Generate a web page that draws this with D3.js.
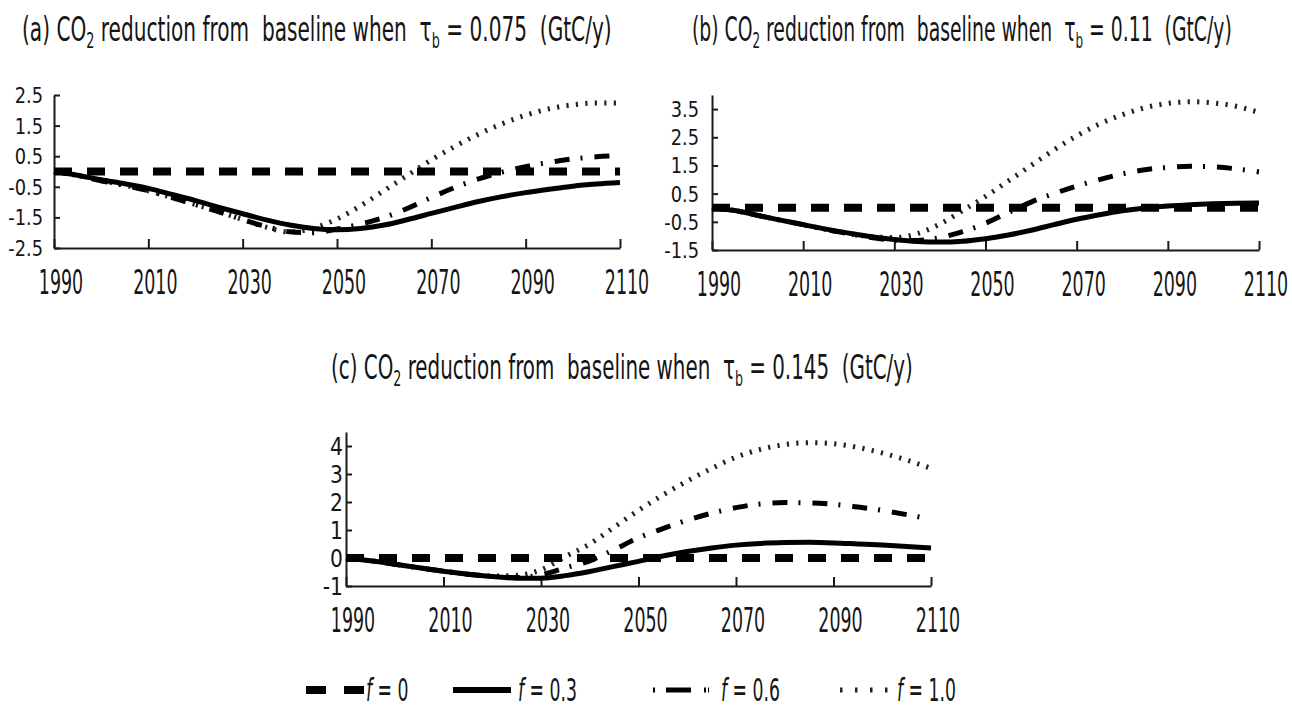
<!DOCTYPE html>
<html>
<head>
<meta charset="utf-8">
<script src="https://cdn.jsdelivr.net/npm/d3@7"></script>
<style>
  body { margin: 0; background: #fff; }
  text { font-family: "Liberation Sans Narrow", "DejaVu Sans Condensed", "Liberation Sans", sans-serif; fill: #151515; white-space: pre; }
</style>
</head>
<body>
<svg id="chart" width="1292" height="717"></svg>
<script>
// ---- data, one value every 5 years ----
var years = [1990, 1995, 2000, 2005, 2010, 2015, 2020, 2025, 2030, 2035, 2040, 2045, 2050,
             2055, 2060, 2065, 2070, 2075, 2080, 2085, 2090, 2095, 2100, 2105, 2110];

var f0 = [0, 0, 0, 0, 0, 0, 0, 0, 0, 0, 0, 0, 0, 0, 0, 0, 0, 0, 0, 0, 0, 0, 0, 0, 0];

// (a) tau_b = 0.075
var a03 = [0, -0.12, -0.27, -0.4, -0.55, -0.75, -0.95, -1.17, -1.38, -1.58, -1.75, -1.86, -1.9,
           -1.86, -1.75, -1.57, -1.37, -1.17, -0.98, -0.82, -0.69, -0.58, -0.48, -0.41, -0.36];
var a06 = [0, -0.13, -0.3, -0.45, -0.63, -0.85, -1.08, -1.32, -1.57, -1.8, -1.97, -2.0, -1.88,
           -1.72, -1.5, -1.2, -0.85, -0.52, -0.24, -0.02, 0.16, 0.3, 0.41, 0.48, 0.52];
var a10 = [0, -0.13, -0.3, -0.45, -0.63, -0.85, -1.08, -1.32, -1.57, -1.82, -1.98, -1.85, -1.55,
           -1.12, -0.62, -0.12, 0.38, 0.82, 1.22, 1.56, 1.84, 2.05, 2.18, 2.24, 2.24];

// (b) tau_b = 0.11
var b03 = [0, -0.1, -0.27, -0.44, -0.6, -0.76, -0.9, -1.03, -1.13, -1.2, -1.22, -1.19, -1.1,
           -0.97, -0.8, -0.6, -0.41, -0.25, -0.11, -0.01, 0.06, 0.11, 0.14, 0.16, 0.17];
var b06 = [0, -0.1, -0.27, -0.44, -0.6, -0.77, -0.92, -1.06, -1.15, -1.16, -1.06, -0.85, -0.55,
           -0.17, 0.2, 0.5, 0.77, 1.0, 1.2, 1.35, 1.43, 1.47, 1.45, 1.38, 1.27];
var b10 = [0, -0.1, -0.27, -0.44, -0.6, -0.77, -0.92, -1.03, -1.06, -0.92, -0.58, -0.1, 0.4,
           0.95, 1.5, 2.05, 2.55, 2.97, 3.3, 3.55, 3.7, 3.76, 3.72, 3.6, 3.38];

// (c) tau_b = 0.145
var c03 = [0, -0.1, -0.22, -0.35, -0.47, -0.58, -0.66, -0.72, -0.72, -0.63, -0.48, -0.3, -0.12,
           0.07, 0.23, 0.36, 0.46, 0.52, 0.55, 0.56, 0.54, 0.5, 0.46, 0.41, 0.36];
var c06 = [0, -0.1, -0.22, -0.35, -0.47, -0.58, -0.66, -0.7, -0.6, -0.35, -0.1, 0.3, 0.72,
           1.05, 1.35, 1.6, 1.8, 1.93, 1.98, 1.97, 1.92, 1.82, 1.7, 1.55, 1.38];
var c10 = [0, -0.1, -0.22, -0.35, -0.47, -0.58, -0.64, -0.62, -0.42, 0.05, 0.5, 1.1, 1.7,
           2.25, 2.75, 3.2, 3.6, 3.88, 4.05, 4.12, 4.08, 3.95, 3.75, 3.5, 3.2];

var xTicks = [1990, 2010, 2030, 2050, 2070, 2090, 2110];
var aTicks = [-2.5, -1.5, -0.5, 0.5, 1.5, 2.5];
var bTicks = [-1.5, -0.5, 0.5, 1.5, 2.5, 3.5];
var cTicks = [-1, 0, 1, 2, 3, 4];
var fValues = ["0", "0.3", "0.6", "1.0"];
var tauValues = ["0.075", "0.11", "0.145"];

// ---- styles ----
var styles = [
  { width: 8, dash: "18,15", color: "#000" },       // f = 0
  { width: 5, dash: null, color: "#000" },          // f = 0.3
  { width: 5, dash: "15,11,2,12", color: "#000" },  // f = 0.6
  { width: 5, dash: "2.2,7.3", color: "#222" }      // f = 1.0
];

var svg = d3.select("#chart");

// squeezed text helper (the source uses a condensed face)
function sText(g, x, y, size, sx, anchor) {
  var gg = g.append("g").attr("transform", "translate(" + x + "," + y + ") scale(" + sx + ",1)");
  return gg.append("text").attr("font-size", size).attr("text-anchor", anchor || "start");
}
function fitWidth(t, x, y, width) {
  var w = t.node().getBBox().width;
  d3.select(t.node().parentNode).attr("transform", "translate(" + x + "," + y + ") scale(" + (width / w) + ",1)");
}

function title(letter, tau, x, y, width) {
  var t = sText(svg, x, y, 33, 1, "start");
  t.append("tspan").text("(" + letter + ") CO");
  t.append("tspan").attr("font-size", 21).attr("dy", 7).text("2");
  t.append("tspan").attr("dy", -7).text(" reduction from  baseline when  \u03C4");
  t.append("tspan").attr("font-size", 21).attr("dy", 7).text("b");
  t.append("tspan").attr("dy", -7).text(" = " + tau + "  (GtC/y)");
  fitWidth(t, x, y, width);
}

var panels = [
  { id: "a", tau: tauValues[0], left: 54, right: 620, top: 95, bottom: 248, dom: [-2.5, 2.5],
    ticks: aTicks, series: [f0, a03, a06, a10], labGap: 11, ySize: 22,
    tx: 22, ty: 41, tw: 590 },
  { id: "b", tau: tauValues[1], left: 712, right: 1259, top: 95, bottom: 250, dom: [-1.5, 4.0],
    ticks: bTicks, series: [f0, b03, b06, b10], labGap: 13, ySize: 22,
    tx: 692, ty: 41, tw: 540 },
  { id: "c", tau: tauValues[2], left: 346, right: 931, top: 432, bottom: 586, dom: [-1, 4.5],
    ticks: cTicks, series: [f0, c03, c06, c10], labGap: 3, ySize: 25,
    tx: 331, ty: 379, tw: 582 }
];

panels.forEach(function (p) {
  var x = d3.scaleLinear().domain([1990, 2110]).range([p.left, p.right]);
  var y = d3.scaleLinear().domain(p.dom).range([p.bottom, p.top]);
  var g = svg.append("g");

  title(p.id, p.tau, p.tx, p.ty, p.tw);

  // axes
  var xa = g.append("g").attr("transform", "translate(0," + p.bottom + ")")
    .call(d3.axisBottom(x).tickValues(xTicks).tickSizeInner(-9).tickSizeOuter(0).tickFormat(""));
  var ya = g.append("g").attr("transform", "translate(" + p.left + ",0)")
    .call(d3.axisLeft(y).tickValues(p.ticks).tickSizeInner(-6).tickSizeOuter(0).tickFormat(""));
  [xa, ya].forEach(function (a) {
    a.selectAll("path, line").attr("stroke", "#1a1a1a").attr("stroke-width", 2);
  });

  // tick labels
  xTicks.forEach(function (v) {
    sText(g, x(v) + 7, p.bottom + 46, 34, 0.57, "middle").text(v);
  });
  p.ticks.forEach(function (v) {
    sText(g, p.left - p.labGap, y(v) + p.ySize * 0.36, p.ySize, 0.9, "end").text(v);
  });

  // lines, drawn f=1.0 first so the dashed zero line sits on top
  var line = d3.line()
    .x(function (d, i) { return x(years[i]); })
    .y(function (d) { return y(d); })
    .curve(d3.curveMonotoneX);
  [3, 2, 1, 0].forEach(function (k) {
    var s = styles[k];
    g.append("path")
      .datum(p.series[k])
      .attr("d", line)
      .attr("fill", "none")
      .attr("stroke", s.color)
      .attr("stroke-width", s.width)
      .attr("stroke-dasharray", s.dash);
  });
});

// ---- legend ----
var legend = [
  { x1: 306, x2: 364, dash: "20,18", w: 8, tx: 366 },
  { x1: 453, x2: 511, dash: null, w: 6, tx: 518 },
  { x1: 653, x2: 709, dash: "2,11,25,13,2", w: 5, tx: 721 },
  { x1: 840, x2: 888, dash: "2.5,12.5", w: 5, tx: 897 }
];
var ly = 690;
legend.forEach(function (l, i) {
  svg.append("line")
    .attr("x1", l.x1).attr("x2", l.x2).attr("y1", ly).attr("y2", ly)
    .attr("stroke", styles[i].color).attr("stroke-width", l.w)
    .attr("stroke-dasharray", l.dash);
  var t = sText(svg, l.tx, ly + 11, 32, 0.6, "start");
  t.append("tspan").attr("font-style", "italic").text("f");
  t.append("tspan").text(" = " + fValues[i]);
});
</script>
</body>
</html>
